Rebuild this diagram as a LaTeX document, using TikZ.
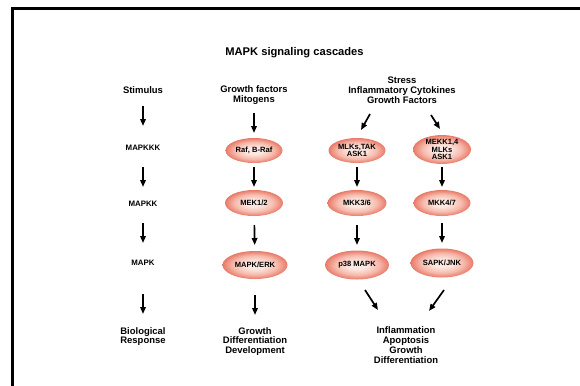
\documentclass[tikz,border=0pt]{standalone}
\usepackage{fontspec}
\setmainfont{Liberation Sans}
\usetikzlibrary{arrows.meta,shapes.geometric}
\definecolor{ellin}{RGB}{253,232,225}
\definecolor{ellmid}{RGB}{246,186,172}
\definecolor{ellout}{RGB}{232,122,104}
\pgfdeclareradialshading{ellshade}{\pgfpoint{0bp}{0bp}}{color(0bp)=(ellin); color(7bp)=(ellin); color(17bp)=(ellmid); color(25bp)=(ellout); color(50bp)=(ellout)}
\tikzset{
  lbl/.style={font=\fontsize{9.5}{9.8}\selectfont\bfseries, align=center, inner sep=0pt},
  slbl/.style={font=\fontsize{7.9}{8}\selectfont\bfseries, align=center, inner sep=0pt},
  ttl/.style={font=\fontsize{11.2}{12}\selectfont\bfseries, inner sep=0pt},
  ell/.style 2 args={ellipse, shading=ellshade, minimum width=#1, minimum height=#2, inner sep=0pt,
     font=\fontsize{7.6}{7.6}\selectfont\bfseries, align=center},
  arr/.style={line width=1.7bp, -{Triangle[length=7bp,width=5.5bp]}},
  frame/.style={line width=3bp, line join=miter}
}
\begin{document}
\begin{tikzpicture}[x=1bp,y=-1bp]
\useasboundingbox (0,0) rectangle (580,385);
\draw[frame] (581,8.5) -- (12.5,8.5) -- (12.5,386);

\node[ttl] (title) at (294.5,53) {MAPK signaling cascades};

% column 1
\node[lbl]  (stim) at (143,90.5) {Stimulus};
\node[slbl] (mkkk) at (143,148) {MAPKKK};
\node[slbl] (mkk)  at (143,203.5) {MAPKK};
\node[slbl] (mk)   at (143,263) {MAPK};
\node[lbl]  (bio)  at (143,336.5) {Biological\\Response};

% column 2
\node[lbl] (gf)  at (254,95) {Growth factors\\Mitogens};
\node[ell={57bp}{25bp}] (raf) at (254,150.5) {Raf, B-Raf};
\node[ell={58bp}{26bp}] (mek) at (254,203) {MEK1/2};
\node[ell={65bp}{28bp}] (erk) at (255,265) {MAPK/ERK};
\node[lbl] (gdd) at (255,341.5) {Growth\\Differentiation\\Development};

% columns 3 and 4
\node[lbl] (hdr) at (402,90) {Stress\\Inflammatory Cytokines\\Growth Factors};
\node[ell={57bp}{25bp}] (mlk)   at (357,150.5) {MLKs,TAK\\ASK1};
\node[ell={58bp}{27bp}] (mekk)  at (442,149.5) {MEKK1,4\\MLKs\\ASK1};
\node[ell={59bp}{26bp}] (mkk36) at (357,203) {MKK3/6};
\node[ell={57bp}{26bp}] (mkk47) at (442,203) {MKK4/7};
\node[ell={64bp}{29bp}] (p38)   at (357,265) {p38 MAPK};
\node[ell={63bp}{29bp}] (sapk)  at (442,263) {SAPK/JNK};
\node[lbl] (out) at (406,345) {Inflammation\\Apoptosis\\Growth\\Differentiation};

% arrows column 1
\draw[arr, shorten <=15.5bp, shorten >=22bp] (stim.center) -- (mkkk.center);
\draw[arr, shorten <=19bp, shorten >=16.5bp] (mkkk.center) -- (mkk.center);
\draw[arr, shorten <=19.5bp, shorten >=20bp] (mkk.center) -- (mk.center);
\draw[arr, shorten <=31bp, shorten >=22.5bp] (mk.center) -- (bio.center);

% arrows column 2
\draw[arr, shorten <=18bp, shorten >=17.5bp] (gf.center) -- (raf.center);
\draw[arr, shorten <=16.5bp, shorten >=16bp] (raf.center) -- (mek.center);
\draw[arr, shorten <=22bp, shorten >=20bp] (mek.center) -- (erk.center);
\draw[arr, shorten <=30bp, shorten >=26.5bp] (erk.center) -- (gdd.center);

% arrows columns 3 and 4
\coordinate (d1a) at (370,114);
\coordinate (d1b) at (361,130);
\coordinate (d2a) at (431,115);
\coordinate (d2b) at (440,129);
\draw[arr] (d1a) -- (d1b);
\draw[arr] (d2a) -- (d2b);
\draw[arr, shorten <=16.5bp, shorten >=16bp] (mlk.center) -- (mkk36.center);
\draw[arr, shorten <=17.5bp, shorten >=16bp] (mekk.center) -- (mkk47.center);
\draw[arr, shorten <=22bp, shorten >=20bp] (mkk36.center) -- (p38.center);
\draw[arr, shorten <=20bp, shorten >=20bp] (mkk47.center) -- (sapk.center);
\coordinate (d3a) at (365,290);
\coordinate (d3b) at (378,310);
\coordinate (d4a) at (444,290);
\coordinate (d4b) at (429,311);
\draw[arr] (d3a) -- (d3b);
\draw[arr] (d4a) -- (d4b);
\end{tikzpicture}
\end{document}
